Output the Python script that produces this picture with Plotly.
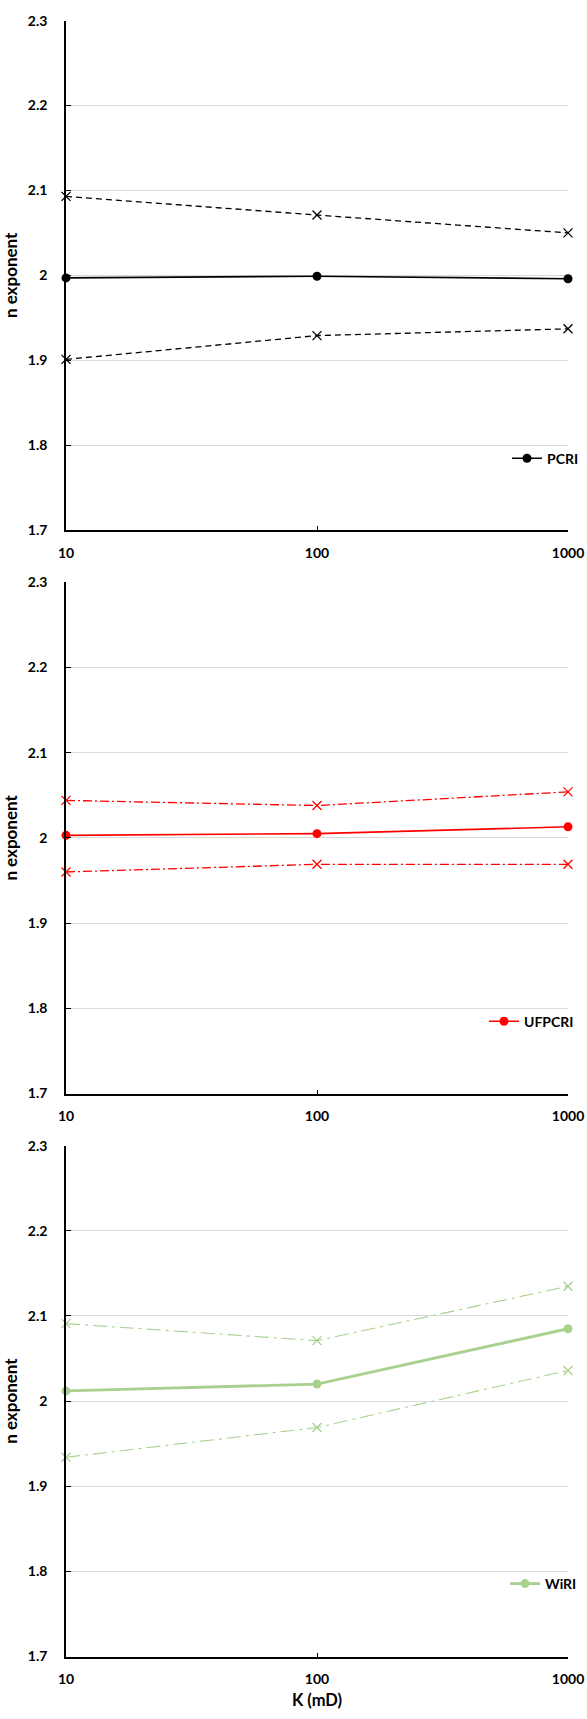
import plotly.graph_objects as go

# ---------------- data ----------------
k_md = [10, 100, 1000]

pcri_mean = [1.997, 1.999, 1.996]
pcri_upper = [2.093, 2.071, 2.050]
pcri_lower = [1.901, 1.929, 1.937]

ufpcri_mean = [2.003, 2.005, 2.013]
ufpcri_upper = [2.044, 2.038, 2.054]
ufpcri_lower = [1.960, 1.969, 1.969]

wiri_mean = [2.012, 2.020, 2.085]
wiri_upper = [2.091, 2.071, 2.135]
wiri_lower = [1.934, 1.969, 2.036]

series_names = ["PCRI", "UFPCRI", "WiRI"]
y_ticks = [1.7, 1.8, 1.9, 2.0, 2.1, 2.2, 2.3]
y_tick_text = ["1.7", "1.8", "1.9", "2", "2.1", "2.2", "2.3"]
x_ticks = [10, 100, 1000]
x_tick_text = ["10", "100", "1000"]

# ---------------- layout geometry (pixels) ----------------
W, H = 587, 1719
M_T, M_B, M_L, M_R = 20, 62, 66, 19
PH = H - M_T - M_B
PW = W - M_L - M_R
panels_px = [(20.7, 530.0), (582.3, 1093.5), (1145.7, 1656.5)]
legend_y_px = [458.7, 1021.7, 1584.0]
legend_x_px = [507, 484, 505]


def py(p):
    return min(1.0, max(0.0, 1 - (p - M_T) / PH))


def px(p):
    return (p - M_L) / PW


FONT = "Lato, 'Open Sans', sans-serif"
colors = ["#000000", "#FF0000", "#A9D18E"]
main_width = [1.6, 1.6, 2.8]
band_width = [1.3, 1.3, 1.1]
band_dash = ["6px,4px", "9px,3px,2px,3px", "14px,5px,3px,5px"]
means = [pcri_mean, ufpcri_mean, wiri_mean]
uppers = [pcri_upper, ufpcri_upper, wiri_upper]
lowers = [pcri_lower, ufpcri_lower, wiri_lower]

fig = go.Figure()

for i in range(3):
    xa = "x" if i == 0 else f"x{i+1}"
    ya = "y" if i == 0 else f"y{i+1}"
    lg = "legend" if i == 0 else f"legend{i+1}"
    for band in (uppers[i], lowers[i]):
        fig.add_trace(go.Scatter(
            x=k_md, y=band, xaxis=xa, yaxis=ya, mode="lines+markers",
            line=dict(color=colors[i], width=band_width[i], dash=band_dash[i]),
            marker=dict(symbol="x-thin", size=9, line=dict(color=colors[i], width=1.3)),
            showlegend=False, hoverinfo="x+y", cliponaxis=False))
    fig.add_trace(go.Scatter(
        x=k_md, y=means[i], xaxis=xa, yaxis=ya, mode="lines+markers",
        name=series_names[i], legend=lg, cliponaxis=False,
        line=dict(color=colors[i], width=main_width[i]),
        marker=dict(symbol="circle", size=9, color=colors[i])))

layout = dict(
    width=W, height=H,
    margin=dict(t=M_T, b=M_B, l=M_L, r=M_R, autoexpand=False),
    paper_bgcolor="white", plot_bgcolor="white",
    font=dict(family=FONT, size=14, color="#000000", weight="bold"),
)

for i in range(3):
    top, bot = panels_px[i]
    xk = "xaxis" if i == 0 else f"xaxis{i+1}"
    yk = "yaxis" if i == 0 else f"yaxis{i+1}"
    ya = "y" if i == 0 else f"y{i+1}"
    xa = "x" if i == 0 else f"x{i+1}"
    layout[xk] = dict(
        type="log", range=[1, 3], domain=[0, 1], anchor=ya,
        tickvals=x_ticks, ticktext=x_tick_text,
        showline=True, linecolor="#000000", linewidth=1.6,
        ticks="inside", ticklen=4, tickcolor="#000000",
        showgrid=False, zeroline=False, ticklabelstandoff=9,
        tickfont=dict(family=FONT, size=14, weight="bold"),
        title=dict(text="K (mD)" if i == 2 else "",
                   font=dict(family=FONT, size=16.5, weight="bold"), standoff=8),
    )
    layout[yk] = dict(
        range=[1.7, 2.3], domain=[py(bot), py(top)], anchor=xa,
        tickvals=y_ticks, ticktext=y_tick_text,
        showline=True, linecolor="#000000", linewidth=1.6,
        ticks="inside", ticklen=5, tickcolor="#000000",
        showgrid=True, gridcolor="#D9D9D9", gridwidth=1.2,
        zeroline=False, ticklabelstandoff=14,
        tickfont=dict(family=FONT, size=14, weight="bold"),
        title=dict(text="n exponent", font=dict(family=FONT, size=17, weight="bold"),
                   standoff=8),
    )
    lk = "legend" if i == 0 else f"legend{i+1}"
    layout[lk] = dict(
        x=px(legend_x_px[i]), xanchor="left", y=py(legend_y_px[i]), yanchor="middle",
        bgcolor="rgba(0,0,0,0)", borderwidth=0,
        font=dict(family=FONT, size=14, weight="bold"),
        itemwidth=30, tracegroupgap=0,
    )

fig.update_layout(**layout)
fig.write_html(
    "out.html",
    config={"displayModeBar": False},
    post_script="document.body.style.margin='0px';"
                "document.documentElement.style.overflow='hidden';",
)
